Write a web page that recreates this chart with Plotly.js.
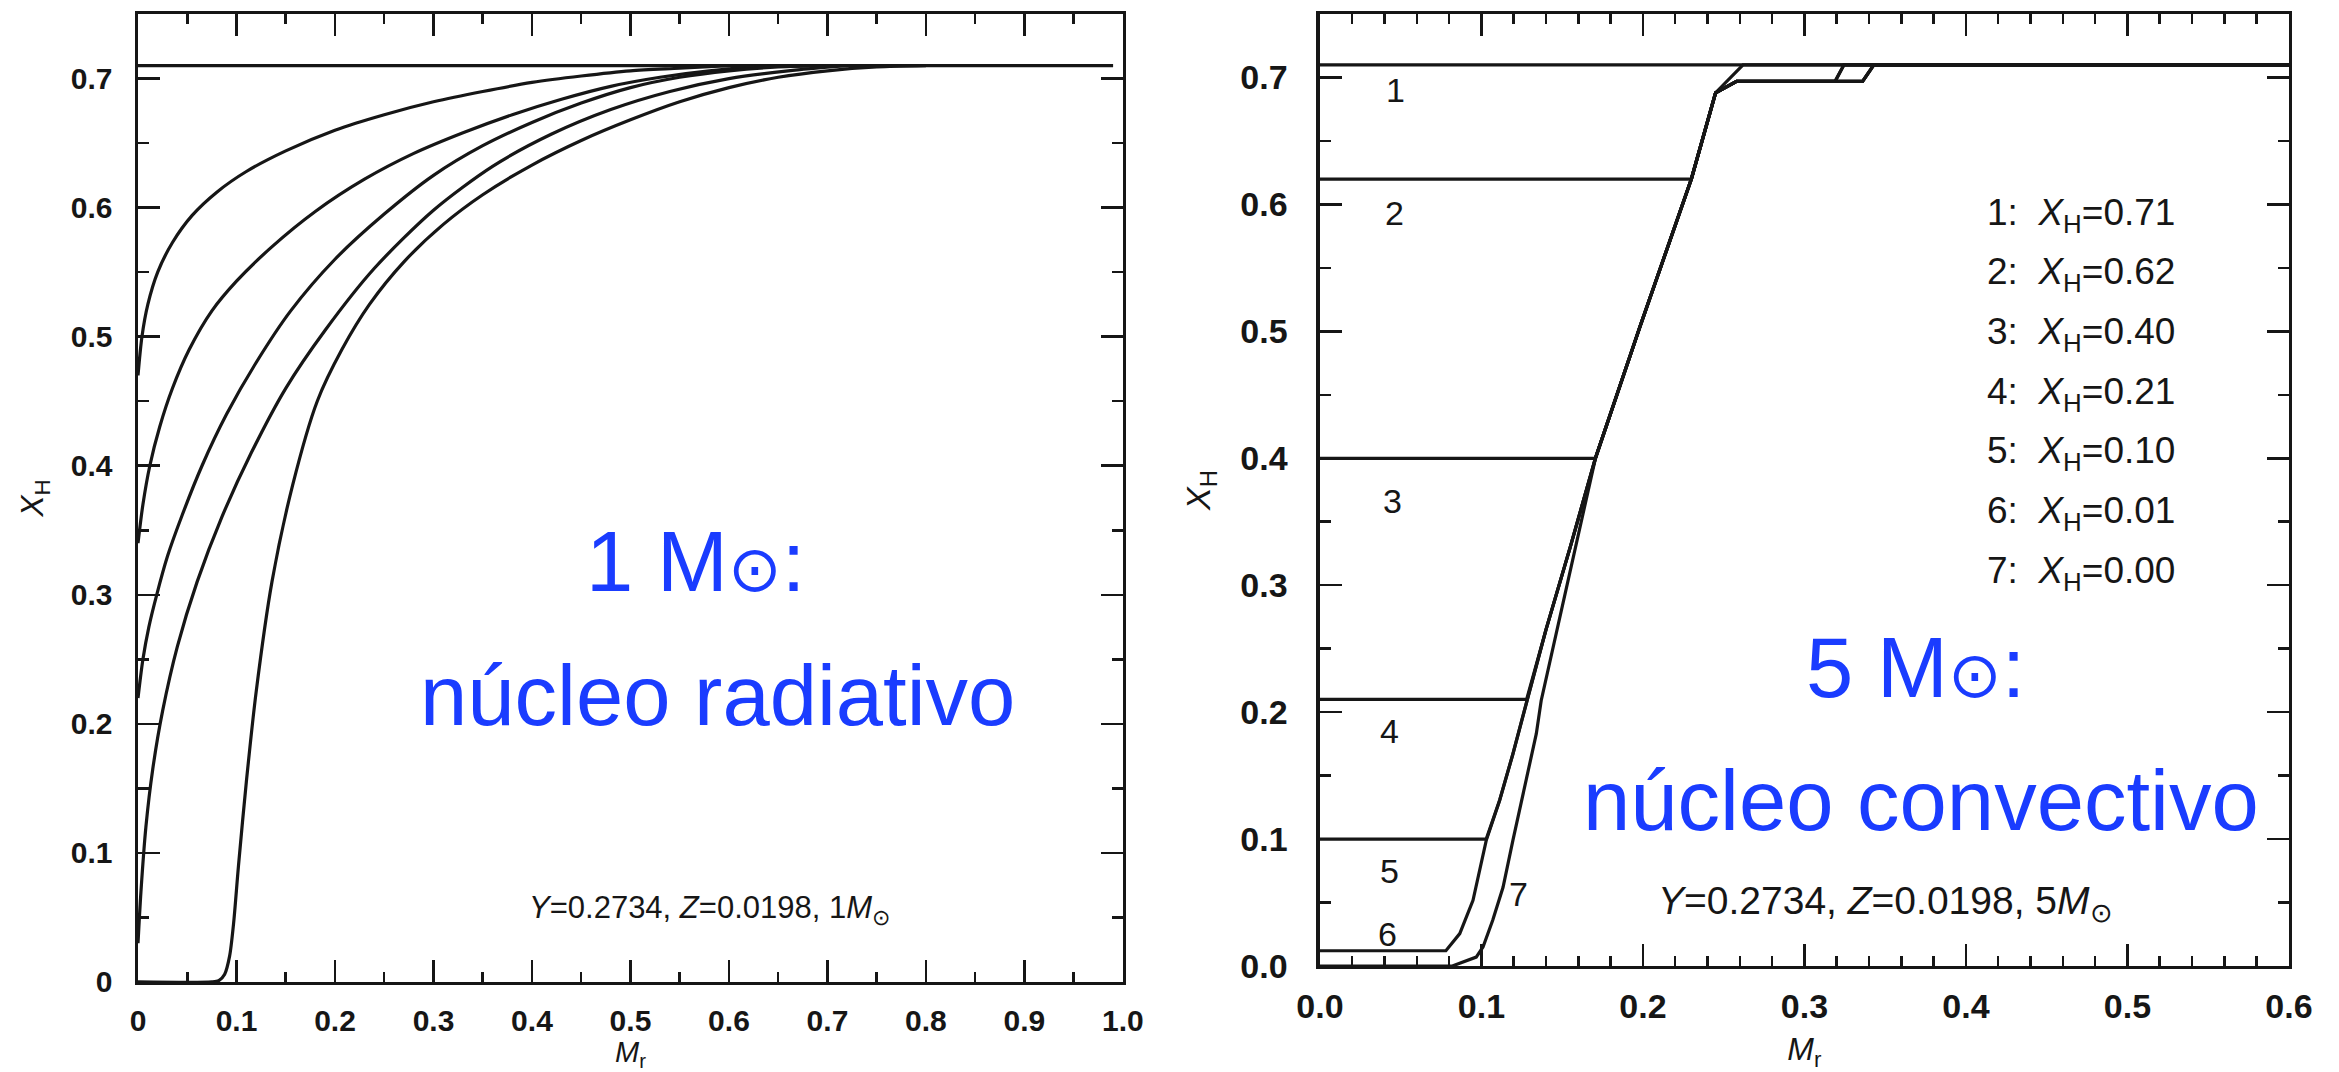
<!DOCTYPE html>
<html>
<head>
<meta charset="utf-8">
<script src="https://cdn.plot.ly/plotly-3.0.1.min.js"></script>
<style>html,body{margin:0;padding:0;background:#fff;}#chart{width:2339px;height:1072px;}</style>
</head>
<body>
<div id="chart"></div>
<script>
// ---------- Left panel: 1 Msun, radiative core ----------
const leftInitX = [0, 0.99];
const leftInitY = [0.71, 0.71];
const leftC1X = [0, 0.004, 0.01, 0.02, 0.035, 0.055, 0.08, 0.11, 0.15, 0.2, 0.25, 0.3, 0.35, 0.4, 0.45, 0.5, 0.55, 0.6];
const leftC1Y = [0.47, 0.5, 0.525, 0.55, 0.573, 0.594, 0.612, 0.628, 0.644, 0.66, 0.672, 0.682, 0.69, 0.697, 0.702, 0.706, 0.708, 0.71];
const leftC2X = [0, 0.005, 0.012, 0.022, 0.035, 0.052, 0.075, 0.1, 0.135, 0.18, 0.23, 0.28, 0.33, 0.38, 0.43, 0.48, 0.53, 0.58, 0.63, 0.68];
const leftC2Y = [0.34, 0.37, 0.4, 0.43, 0.46, 0.49, 0.52, 0.543, 0.569, 0.597, 0.622, 0.642, 0.658, 0.672, 0.684, 0.694, 0.701, 0.706, 0.709, 0.71];
const leftC3X = [0, 0.005, 0.011, 0.019, 0.03, 0.045, 0.065, 0.09, 0.12, 0.155, 0.2, 0.25, 0.3, 0.35, 0.4, 0.45, 0.5, 0.55, 0.6, 0.65, 0.7];
const leftC3Y = [0.22, 0.25, 0.275, 0.3, 0.33, 0.362, 0.4, 0.44, 0.48, 0.52, 0.56, 0.595, 0.625, 0.648, 0.666, 0.681, 0.693, 0.701, 0.706, 0.709, 0.71];
const leftC4X = [0, 0.003, 0.008, 0.015, 0.025, 0.04, 0.06, 0.085, 0.115, 0.15, 0.19, 0.24, 0.3, 0.36, 0.42, 0.48, 0.54, 0.6, 0.66, 0.72];
const leftC4Y = [0.03, 0.07, 0.12, 0.165, 0.21, 0.26, 0.31, 0.36, 0.41, 0.46, 0.505, 0.553, 0.598, 0.632, 0.657, 0.676, 0.69, 0.7, 0.706, 0.71];
const leftC5X = [0, 0.075, 0.082, 0.088, 0.093, 0.097, 0.102, 0.11, 0.12, 0.136, 0.157, 0.182, 0.207, 0.235, 0.27, 0.31, 0.35, 0.4, 0.45, 0.5, 0.55, 0.6, 0.65, 0.7, 0.75, 0.8];
const leftC5Y = [0, 0, 0.001, 0.006, 0.02, 0.045, 0.09, 0.155, 0.225, 0.31, 0.385, 0.45, 0.49, 0.525, 0.558, 0.587, 0.61, 0.633, 0.652, 0.668, 0.682, 0.693, 0.701, 0.706, 0.709, 0.71];

// ---------- Right panel: 5 Msun, convective core ----------
const rightC1X = [0, 0.6];
const rightC1Y = [0.71, 0.71];
const rightC2X = [0, 0.230, 0.245, 0.262, 0.6];
const rightC2Y = [0.62, 0.62, 0.688, 0.71, 0.71];
const rightC3X = [0, 0.1706, 0.198, 0.230, 0.245, 0.258, 0.319, 0.3245, 0.6];
const rightC3Y = [0.40, 0.40, 0.503, 0.62, 0.688, 0.697, 0.697, 0.71, 0.71];
const rightC4X = [0, 0.128, 0.14, 0.155, 0.1706, 0.198, 0.230, 0.245, 0.258, 0.336, 0.343, 0.6];
const rightC4Y = [0.21, 0.21, 0.265, 0.33, 0.40, 0.503, 0.62, 0.688, 0.697, 0.697, 0.71, 0.71];
const rightC5X = [0, 0.103, 0.1113, 0.1195, 0.128, 0.14, 0.155, 0.1706, 0.198, 0.230, 0.245, 0.258, 0.336, 0.343, 0.6];
const rightC5Y = [0.10, 0.10, 0.1306, 0.167, 0.208, 0.265, 0.33, 0.40, 0.503, 0.62, 0.688, 0.697, 0.697, 0.71, 0.71];
const rightC6X = [0, 0.078, 0.0866, 0.0948, 0.103, 0.1113, 0.1195, 0.128, 0.14, 0.155, 0.1706, 0.198, 0.230, 0.245, 0.258, 0.336, 0.343, 0.6];
const rightC6Y = [0.012, 0.012, 0.0255, 0.0517, 0.099, 0.1306, 0.167, 0.208, 0.265, 0.33, 0.40, 0.503, 0.62, 0.688, 0.697, 0.697, 0.71, 0.71];
const rightC7X = [0, 0.082, 0.0968, 0.101, 0.107, 0.1134, 0.1195, 0.1257, 0.134, 0.137, 0.146, 0.155, 0.163, 0.1706, 0.198, 0.230, 0.245, 0.258, 0.319, 0.3245, 0.6];
const rightC7Y = [0, 0, 0.007, 0.015, 0.036, 0.062, 0.099, 0.136, 0.183, 0.209, 0.26, 0.31, 0.355, 0.40, 0.503, 0.62, 0.688, 0.697, 0.697, 0.71, 0.71];

// curve labels (numbers) on right panel
const curveLabels = ['1', '2', '3', '4', '5', '6', '7'];
const curveLabelX = [0.047, 0.046, 0.045, 0.043, 0.043, 0.042, 0.123];
const curveLabelY = [0.690, 0.593, 0.366, 0.185, 0.075, 0.025, 0.057];

// legend list on right panel
const legendNums = ['1', '2', '3', '4', '5', '6', '7'];
const legendValues = ['0.71', '0.62', '0.40', '0.21', '0.10', '0.01', '0.00'];
const legendRowY = [0.592, 0.545, 0.498, 0.451, 0.404, 0.357, 0.310];

// tick labels
const leftXTickVals = [0, 0.1, 0.2, 0.3, 0.4, 0.5, 0.6, 0.7, 0.8, 0.9, 1.0];
const leftXTickText = ['0', '0.1', '0.2', '0.3', '0.4', '0.5', '0.6', '0.7', '0.8', '0.9', '1.0'];
const leftYTickVals = [0, 0.1, 0.2, 0.3, 0.4, 0.5, 0.6, 0.7];
const leftYTickText = ['0', '0.1', '0.2', '0.3', '0.4', '0.5', '0.6', '0.7'];
const rightXTickVals = [0, 0.1, 0.2, 0.3, 0.4, 0.5, 0.6];
const rightXTickText = ['0.0', '0.1', '0.2', '0.3', '0.4', '0.5', '0.6'];
const rightYTickVals = [0, 0.1, 0.2, 0.3, 0.4, 0.5, 0.6, 0.7];
const rightYTickText = ['0.0', '0.1', '0.2', '0.3', '0.4', '0.5', '0.6', '0.7'];

const INK = '#161616';
const BLUE = '#1a3cff';
const FONT = 'Liberation Sans, Arial, Helvetica, sans-serif';
const SUN = '<span style="font-size:64px">\u2299</span>';

function line(x, y, xa, ya, shape) {
  return {x: x, y: y, xaxis: xa, yaxis: ya, type: 'scatter', mode: 'lines',
          line: {color: INK, width: 3.2, shape: shape || 'linear', smoothing: 0.8},
          showlegend: false, hoverinfo: 'skip'};
}

const traces = [
  line(leftInitX, leftInitY, 'x', 'y'),
  line(leftC1X, leftC1Y, 'x', 'y', 'spline'),
  line(leftC2X, leftC2Y, 'x', 'y', 'spline'),
  line(leftC3X, leftC3Y, 'x', 'y', 'spline'),
  line(leftC4X, leftC4Y, 'x', 'y', 'spline'),
  line(leftC5X, leftC5Y, 'x', 'y', 'spline'),
  line(rightC1X, rightC1Y, 'x2', 'y2'),
  line(rightC2X, rightC2Y, 'x2', 'y2'),
  line(rightC3X, rightC3Y, 'x2', 'y2'),
  line(rightC4X, rightC4Y, 'x2', 'y2'),
  line(rightC5X, rightC5Y, 'x2', 'y2'),
  line(rightC6X, rightC6Y, 'x2', 'y2'),
  line(rightC7X, rightC7Y, 'x2', 'y2')
];

function axisCommon(extra) {
  return Object.assign({
    showgrid: false, zeroline: false,
    showline: true, linecolor: INK, linewidth: 3.5, mirror: 'ticks',
    ticks: 'inside', ticklen: 22, tickwidth: 2.5, tickcolor: INK,
    tickmode: 'array', tickfont: {family: FONT, size: 30, color: INK, weight: 'bold'},
    fixedrange: true
  }, extra);
}

const annotations = [];
// left panel text
annotations.push({xref: 'x', yref: 'y', x: 0.566, y: 0.326, text: '1 M' + SUN + ':', showarrow: false,
  font: {family: FONT, size: 85, color: BLUE}});
annotations.push({xref: 'x', yref: 'y', x: 0.588, y: 0.222, text: 'núcleo radiativo', showarrow: false,
  font: {family: FONT, size: 85, color: BLUE}});
annotations.push({xref: 'x', yref: 'y', x: 0.58, y: 0.0556,
  text: '<i>Y</i>=0.2734, <i>Z</i>=0.0198, 1<i>M</i><sub>\u2299</sub>', showarrow: false,
  font: {family: FONT, size: 31, color: INK}});
// right panel text
annotations.push({xref: 'x2', yref: 'y2', x: 0.369, y: 0.235, text: '5 M' + SUN + ':', showarrow: false,
  font: {family: FONT, size: 85, color: BLUE}});
annotations.push({xref: 'x2', yref: 'y2', x: 0.372, y: 0.130, text: 'núcleo convectivo', showarrow: false,
  font: {family: FONT, size: 85, color: BLUE}});
annotations.push({xref: 'x2', yref: 'y2', x: 0.35, y: 0.049,
  text: '<i>Y</i>=0.2734, <i>Z</i>=0.0198, 5<i>M</i><sub>\u2299</sub>', showarrow: false,
  font: {family: FONT, size: 39, color: INK}});
for (let i = 0; i < curveLabels.length; i++) {
  annotations.push({xref: 'x2', yref: 'y2', x: curveLabelX[i], y: curveLabelY[i], text: curveLabels[i],
    showarrow: false, font: {family: FONT, size: 34, color: INK}});
}
for (let i = 0; i < legendNums.length; i++) {
  annotations.push({xref: 'x2', yref: 'y2', x: 0.412, y: legendRowY[i], xanchor: 'left',
    text: legendNums[i] + ':  <i>X</i><sub>H</sub>=' + legendValues[i],
    showarrow: false, font: {family: FONT, size: 37, color: INK}});
}

const layout = {
  width: 2339, height: 1072,
  margin: {l: 0, r: 0, t: 0, b: 0},
  paper_bgcolor: '#ffffff', plot_bgcolor: '#ffffff',
  showlegend: false,
  xaxis: axisCommon({domain: [0.0590, 0.4801], range: [0, 1], anchor: 'y',
    tickvals: leftXTickVals, ticktext: leftXTickText, ticklabelstandoff: 10,
    minor: {dtick: 0.05, tick0: 0, ticks: 'inside', ticklen: 10, tickwidth: 2.5, tickcolor: INK},
    title: {text: '<i>M</i><sub>r</sub>', font: {family: FONT, size: 29, color: INK}, standoff: 26}}),
  yaxis: axisCommon({domain: [0.0840, 0.9869], range: [0, 0.75], anchor: 'x',
    tickvals: leftYTickVals, ticktext: leftYTickText, ticklabelstandoff: 16,
    minor: {dtick: 0.05, tick0: 0, ticks: 'inside', ticklen: 11, tickwidth: 2.5, tickcolor: INK},
    title: {text: '<i>X</i><sub>H</sub>', font: {family: FONT, size: 32, color: INK}, standoff: 18}}),
  xaxis2: axisCommon({domain: [0.5643, 0.9786], range: [0, 0.6], anchor: 'y2',
    tickvals: rightXTickVals, ticktext: rightXTickText, ticklabelstandoff: 8,
    tickfont: {family: FONT, size: 34, color: INK, weight: 'bold'},
    minor: {dtick: 0.02, tick0: 0, ticks: 'inside', ticklen: 10, tickwidth: 2.5, tickcolor: INK},
    title: {text: '<i>M</i><sub>r</sub>', font: {family: FONT, size: 32, color: INK}, standoff: 22}}),
  yaxis2: axisCommon({domain: [0.0989, 0.9869], range: [0, 0.75], anchor: 'x2',
    tickvals: rightYTickVals, ticktext: rightYTickText, ticklabelstandoff: 22,
    tickfont: {family: FONT, size: 34, color: INK, weight: 'bold'},
    minor: {dtick: 0.05, tick0: 0, ticks: 'inside', ticklen: 11, tickwidth: 2.5, tickcolor: INK},
    title: {text: '<i>X</i><sub>H</sub>', font: {family: FONT, size: 34, color: INK}, standoff: 20}}),
  annotations: annotations
};

Plotly.newPlot('chart', traces, layout, {staticPlot: true, displayModeBar: false});
</script>
</body>
</html>
